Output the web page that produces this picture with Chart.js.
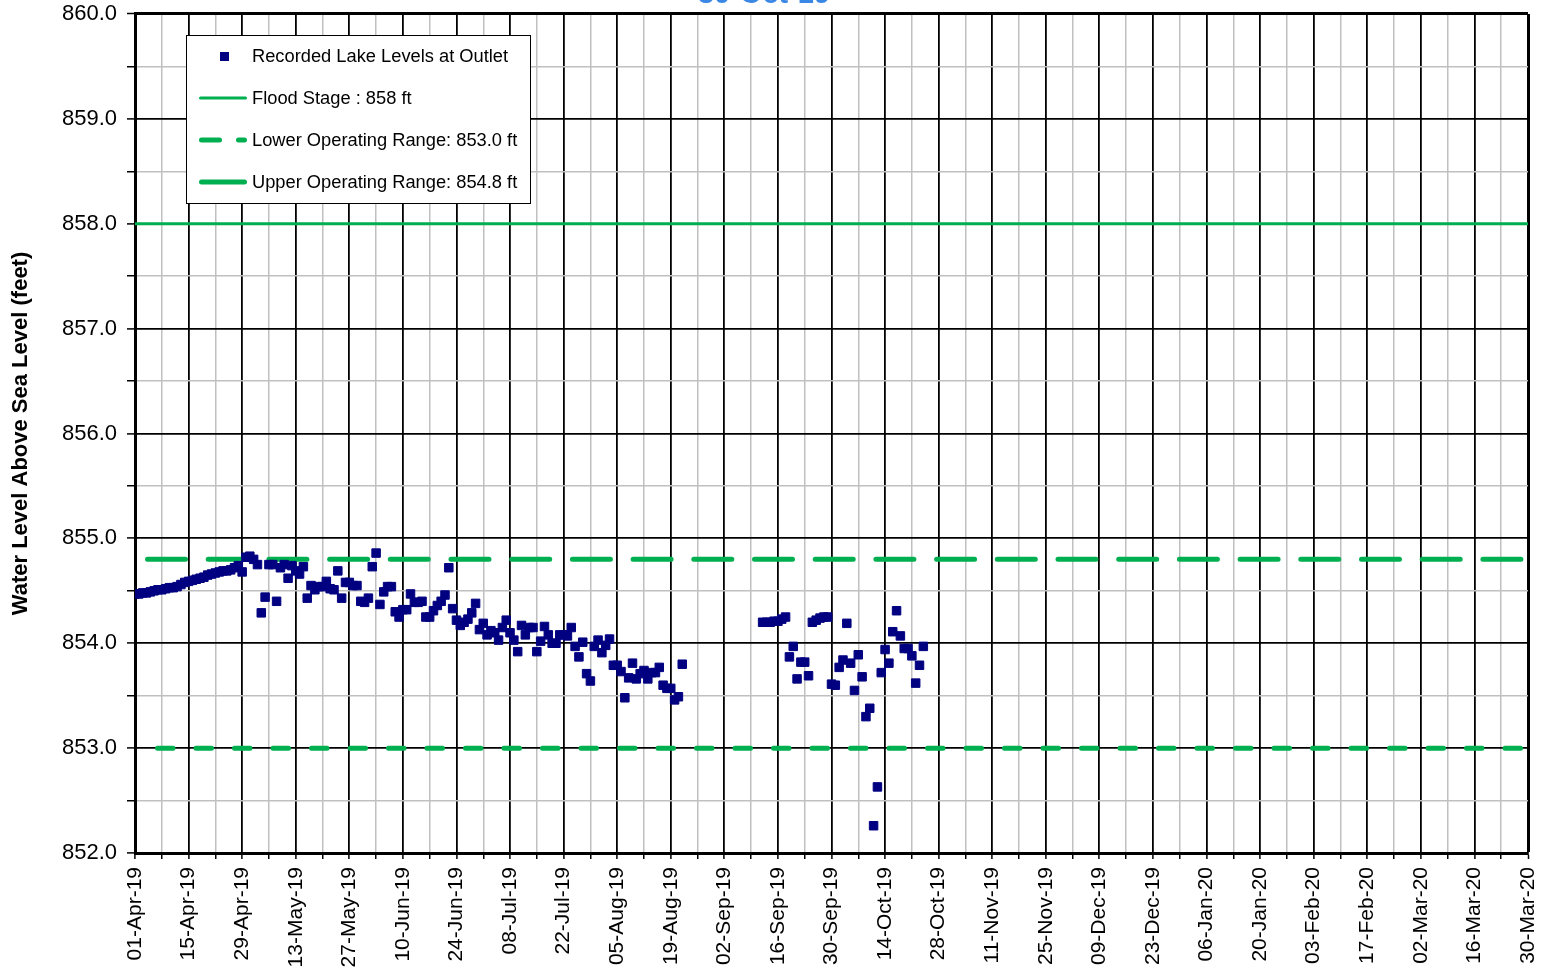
<!DOCTYPE html>
<html><head><meta charset="utf-8">
<script src="https://cdn.jsdelivr.net/npm/chart.js@4.4.1/dist/chart.umd.min.js"></script>
<style>html,body{margin:0;padding:0;background:#fff;overflow:hidden}#wrap{position:relative;width:1546px;height:977px}</style>
</head><body><div id="wrap"><canvas id="c"></canvas></div>
<script>
const chartTitle = '30-Oct-19';
const yAxisTitle = 'Water Level Above Sea Level (feet)';
const axisStartDate = '2019-04-01';
const axisEndDate = '2020-03-30';
const xTickLabels = ['01-Apr-19','15-Apr-19','29-Apr-19','13-May-19','27-May-19','10-Jun-19','24-Jun-19','08-Jul-19','22-Jul-19','05-Aug-19','19-Aug-19','02-Sep-19','16-Sep-19','30-Sep-19','14-Oct-19','28-Oct-19','11-Nov-19','25-Nov-19','09-Dec-19','23-Dec-19','06-Jan-20','20-Jan-20','03-Feb-20','17-Feb-20','02-Mar-20','16-Mar-20','30-Mar-20'];
const yTickLabels = ['852.0','853.0','854.0','855.0','856.0','857.0','858.0','859.0','860.0'];
const yMin = 852, yMax = 860;

// Daily recorded lake levels (ft), first run starting 01-Apr-19
const springStart = '2019-04-01';
const springLevels = [
 854.47,854.47,854.48,854.48,854.49,854.50,854.51,854.51,854.52,854.53,
 854.53,854.54,854.56,854.58,854.59,854.60,854.61,854.62,854.63,854.65,
 854.66,854.67,854.68,854.69,854.69,854.70,854.72,854.74,854.68,854.82,
 854.83,854.80,854.75,854.29,854.44,854.75,854.75,854.40,854.72,854.75,
 854.62,854.74,854.69,854.66,854.73,854.43,854.55,854.51,854.54,854.54,
 854.59,854.52,854.51,854.69,854.43,854.58,854.58,854.55,854.55,854.40,
 854.39,854.43,854.73,854.86,854.37,854.49,854.54,854.54,854.30,854.25,
 854.32,854.32,854.47,854.39,854.39,854.40,854.25,854.25,854.31,854.36,
 854.40,854.46,854.72,854.33,854.22,854.17,854.20,854.23,854.29,854.38,
 854.13,854.19,854.08,854.12,854.10,854.03,854.15,854.22,854.10,854.03,
 853.92,854.17,854.08,854.15,854.15,853.92,854.02,854.16,854.08,854.00,
 854.00,854.08,854.08,854.07,854.15,853.97,853.87,854.01,853.71,853.64,
 853.97,854.03,853.91,853.98,854.04,853.79,853.79,853.73,853.48,853.67,
 853.81,853.66,853.71,853.74,853.66,853.72,853.72,853.77,853.60,853.57,
 853.57,853.46,853.49,853.80
];
// Daily recorded lake levels (ft), second run starting 12-Sep-19
const autumnStart = '2019-09-12';
const autumnLevels = [
 854.20,854.20,854.20,854.21,854.21,854.23,854.25,853.87,853.97,853.66,
 853.82,853.82,853.69,854.20,854.22,854.24,854.25,854.25,853.61,853.60,
 853.77,853.84,854.19,853.81,853.55,853.89,853.68,853.30,853.38,852.26,
 852.63,853.72,853.94,853.81,854.11,854.31,854.07,853.95,853.95,853.88,
 853.62,853.79,853.97
];
const floodStage = 858.0;
const lowerOperating = 853.0;
const upperOperating = 854.8;
const seriesLabels = ['Recorded Lake Levels at Outlet','Flood Stage : 858 ft','Lower Operating Range: 853.0 ft','Upper Operating Range: 854.8 ft'];

const navy = '#000080', green = '#00B050';
const FONT = '"Liberation Sans", Arial, Helvetica, sans-serif';
Chart.defaults.font.family = FONT;
Chart.defaults.color = '#000';

const dayOf = s => Math.round((Date.parse(s) - Date.parse(axisStartDate)) / 86400000);
const axisEnd = dayOf(axisEndDate);
const toPoints = (start, arr) => arr.map((v, i) => ({x: dayOf(start) + i, y: v}));
const levelPoints = toPoints(springStart, springLevels).concat(toPoints(autumnStart, autumnLevels));
const hLine = v => [{x: 0, y: v}, {x: axisEnd, y: v}];

const boxLegend = {
  id: 'boxLegend',
  afterDatasetsDraw(chart) {
    const {ctx, chartArea: ca} = chart;
    const bx = ca.left + 51, by = ca.top + 21, bw = 344, bh = 168;
    ctx.save();
    ctx.fillStyle = '#fff';
    ctx.fillRect(bx, by, bw, bh);
    ctx.strokeStyle = '#000'; ctx.lineWidth = 1;
    ctx.strokeRect(bx + 0.5, by + 0.5, bw, bh);
    chart.data.datasets.forEach((ds, i) => {
      const cy = by + 21 + i * 42;
      if (ds.type === 'scatter') {
        ctx.fillStyle = ds.backgroundColor;
        ctx.fillRect(bx + 34, cy - 4, 9, 9);
      } else {
        ctx.strokeStyle = ds.borderColor;
        ctx.lineWidth = ds.borderWidth;
        ctx.lineCap = 'round';
        ctx.setLineDash(ds.legendDash || []);
        ctx.beginPath();
        ctx.moveTo(bx + 13 + ds.borderWidth / 2, cy);
        ctx.lineTo(bx + 61 - ds.borderWidth / 2, cy);
        ctx.stroke();
        ctx.setLineDash([]);
      }
      ctx.fillStyle = '#000';
      ctx.font = '18.3px ' + FONT;
      ctx.textBaseline = 'middle';
      ctx.textAlign = 'left';
      ctx.fillText(ds.label, bx + 66, cy + 1);
    });
    ctx.restore();
  }
};

new Chart(document.getElementById('c'), {
  data: {
    datasets: [
      {type: 'scatter', label: seriesLabels[0], data: levelPoints, order: 0,
       pointStyle: 'rect', pointRadius: 6, pointBorderWidth: 1,
       backgroundColor: navy, borderColor: navy, showLine: false},
      {type: 'line', label: seriesLabels[1], data: hLine(floodStage), order: 1,
       borderColor: green, borderWidth: 3, pointRadius: 0, borderCapStyle: 'butt'},
      {type: 'line', label: seriesLabels[2], data: hLine(lowerOperating), order: 2,
       borderColor: green, borderWidth: 5, pointRadius: 0, borderCapStyle: 'round',
       borderDash: [15.5, 23], borderDashOffset: 16, legendDash: [18, 19]},
      {type: 'line', label: seriesLabels[3], data: hLine(upperOperating), order: 3,
       borderColor: green, borderWidth: 5, pointRadius: 0, borderCapStyle: 'round',
       borderDash: [38, 22.7], borderDashOffset: 48.2, legendDash: []}
    ]
  },
  options: {
    responsive: true, maintainAspectRatio: false, animation: false, events: [],
    layout: {padding: {left: 0, right: 18, top: 0, bottom: 0}},
    plugins: {
      legend: {display: false},
      tooltip: {enabled: false},
      title: {display: true, text: chartTitle, color: '#3A87E6',
              font: {size: 29, weight: 'bold'}, padding: {top: -22.8, bottom: 2.0}}
    },
    scales: {
      x: {
        type: 'linear', min: 0, max: axisEnd,
        afterFit: s => { s.height = 124; s.paddingLeft = 0; s.paddingRight = 0; },
        ticks: {stepSize: 7, autoSkip: false, maxRotation: 90, minRotation: 90, padding: 8,
                color: '#000', font: {size: 21},
                callback: v => { const d = Math.round(v); return d % 14 === 0 ? xTickLabels[d / 14] : ''; }},
        grid: {
          color: c => (Math.round(c.tick.value) % 14 === 0 ? '#000' : '#c0c0c0'),
          lineWidth: c => (Math.round(c.tick.value) === axisEnd ? 3 : (Math.round(c.tick.value) % 14 === 0 ? 1.8 : 1.5)),
          tickColor: '#000', tickLength: 6, tickWidth: 1.5
        },
        border: {display: true, color: '#000', width: 3}
      },
      y: {
        min: yMin, max: yMax,
        afterFit: s => { s.width = 135; s.paddingTop = 0; s.paddingBottom = 0; },
        ticks: {stepSize: 0.5, autoSkip: false, padding: 10, color: '#000', font: {size: 22},
                callback: v => (Number.isInteger(v) ? yTickLabels[v - yMin] : '')},
        grid: {
          color: c => (Number.isInteger(c.tick.value) ? '#000' : '#c0c0c0'),
          lineWidth: c => (c.tick.value === yMax ? 3 : (Number.isInteger(c.tick.value) ? 1.8 : 1.5)),
          tickColor: '#000', tickLength: 8, tickWidth: 1.5
        },
        border: {display: true, color: '#000', width: 3},
        title: {display: true, text: yAxisTitle, color: '#000',
                font: {size: 22, weight: 'bold'}, padding: {top: 8, bottom: 0}}
      }
    }
  },
  plugins: [boxLegend]
});
</script>
</body></html>
